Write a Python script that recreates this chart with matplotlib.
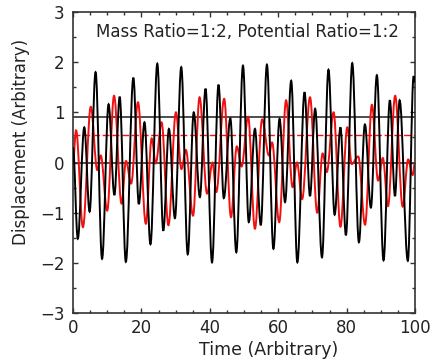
import matplotlib
matplotlib.use("Agg")
import matplotlib.pyplot as plt
from matplotlib.path import Path
from matplotlib.patches import PathPatch
from matplotlib.ticker import MultipleLocator

# Extrema (time, displacement)
black_t = [0.0, 1.4, 3.3, 4.85, 6.6, 8.5, 10.4, 12.1, 13.65, 15.45, 17.65, 19.25, 20.9,
           22.65, 24.65, 26.4, 28.05, 29.8, 31.65, 33.55, 35.3, 37.1, 38.75, 40.65, 42.55,
           44.1, 46.0, 47.75, 49.7, 51.4, 53.2, 54.9, 56.7, 58.6, 60.4, 62.0, 63.8, 65.6,
           67.7, 69.3, 70.8, 72.8, 74.7, 76.5, 78.2, 79.8, 81.65, 83.6, 85.35, 87.1, 88.85,
           90.8, 92.65, 94.15, 95.5, 97.9, 99.6, 100.0]
black_y = [0.3, -1.52, 0.70, -0.98, 1.80, -1.92, 1.16, -0.65, 1.31, -1.98, 1.69, -0.83, 0.80,
           -1.63, 1.97, -1.36, 0.67, -1.11, 1.90, -1.83, 1.00, -0.69, 1.47, -1.99, 1.55,
           -0.71, 0.88, -1.79, 1.93, -1.19, 0.67, -1.25, 1.95, -1.72, 0.87, -0.79, 1.63, -1.99,
           1.40, -0.67, 1.07, -1.89, 1.85, -1.04, 0.70, -1.45, 1.98, -1.59, 0.76, -0.90, 1.74,
           -1.95, 1.24, -0.67, 1.24, -1.96, 1.72, 1.6]

red_t = [0.0, 0.9, 2.9, 5.2, 7.1, 8.1, 10.0, 12.0, 14.2, 15.5, 17.0, 19.0, 21.3, 23.0, 24.2,
         25.9, 27.9, 30.1, 31.7, 33.0, 35.1, 37.0, 39.2, 40.8, 41.9, 44.2, 46.2, 47.9, 49.3,
         51.2, 53.2, 55.3, 57.3, 58.2, 60.3, 62.3, 64.2, 65.5, 67.0, 69.3, 71.4, 73.0, 74.2,
         76.2, 78.2, 80.2, 81.5, 83.4, 85.4, 87.4, 89.2, 90.6, 92.1, 94.2, 96.4, 98.0, 99.3,
         100.0]
red_y = [0.0, 0.64, -1.29, 1.11, -0.15, 0.14, -0.96, 1.33, -0.82, 0.03, -0.42, 1.20, -1.22,
         0.48, -0.02, 0.80, -1.25, 1.00, -0.13, 0.25, -1.06, 1.30, -0.62, 0.0, -0.59, 1.27,
         -1.09, 0.32, -0.08, 0.91, -1.32, 0.86, 0.14, 0.40, -1.19, 1.24, -0.49, 0.0, -0.73,
         1.30, -1.00, 0.18, -0.19, 1.00, -1.28, 0.70, -0.03, 0.12, -1.24, 1.15, -0.36, 0.09,
         -0.87, 1.33, -0.88, 0.06, -0.25, 0.0]

black_level = 0.90
red_level = 0.54
zero_level = 0.0

title = "Mass Ratio=1:2, Potential Ratio=1:2"
xlabel = "Time (Arbitrary)"
ylabel = "Displacement (Arbitrary)"

plt.rcParams['font.family'] = ['DejaVu Sans']

W, H = 441, 361
fig = plt.figure(figsize=(W / 100, H / 100), dpi=100)
ax = fig.add_axes([73 / W, 1 - 313 / H, (415 - 73) / W, (313 - 12) / H])


def smooth_path(ts, ys, k=0.3642):
    verts = [(ts[0], ys[0])]
    codes = [Path.MOVETO]
    for i in range(1, len(ts)):
        t0, y0, t1, y1 = ts[i - 1], ys[i - 1], ts[i], ys[i]
        d = t1 - t0
        verts += [(t0 + k * d, y0), (t1 - k * d, y1), (t1, y1)]
        codes += [Path.CURVE4] * 3
    return Path(verts, codes)


ax.axhline(zero_level, color='#404040', lw=1.3, zorder=1)
ax.axhline(black_level, color='#404040', lw=1.3, zorder=1)
ax.axhline(red_level, color='#ff1010', lw=1.0, ls=(0, (5, 2)), zorder=1)

ax.add_patch(PathPatch(smooth_path(black_t, black_y), fill=False, edgecolor='black',
                       lw=1.4, zorder=3))
ax.add_patch(PathPatch(smooth_path(red_t, red_y), fill=False, edgecolor='#f01010',
                       lw=1.4, zorder=2))

ax.set_xlim(0, 100)
ax.set_ylim(-3, 3)
ax.xaxis.set_major_locator(MultipleLocator(20))
ax.xaxis.set_minor_locator(MultipleLocator(5))
ax.yaxis.set_major_locator(MultipleLocator(1))
ax.yaxis.set_minor_locator(MultipleLocator(0.5))
ax.tick_params(which='both', direction='in', top=True, right=True, colors='#333333',
               labelsize=12, labelcolor='#222222')
ax.tick_params(which='major', length=3.5, width=1)
ax.tick_params(which='minor', length=2, width=1)
ax.tick_params(axis='y', pad=6)
ax.tick_params(axis='x', pad=4)
for s in ax.spines.values():
    s.set_color('#333333')
    s.set_linewidth(1.2)

fig.text(247 / W, 1 - 32 / H, title, ha='center', va='center',
         fontsize=12, color='#222222')
fig.text(269 / W, 1 - 350 / H, xlabel, ha='center', va='center',
         fontsize=12.5, color='#222222')
fig.text(21 / W, 1 - 142 / H, ylabel, ha='center', va='center', rotation=90,
         fontsize=12, color='#222222')

fig.savefig('out.png', dpi=100)
